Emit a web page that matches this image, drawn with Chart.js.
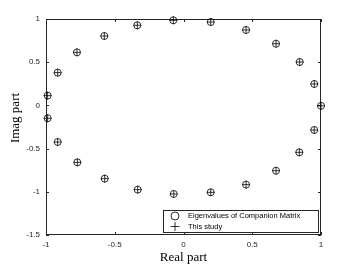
<!DOCTYPE html>
<html>
<head>
<meta charset="utf-8">
<script src="https://cdn.jsdelivr.net/npm/chart.js@4.4.1/dist/chart.umd.min.js"></script>
<style>
  html, body { margin: 0; padding: 0; background: #fff; }
  #wrap { width: 354px; height: 265px; position: relative; }
</style>
</head>
<body>
<div id="wrap"><canvas id="chart"></canvas></div>
<script>
/* data */
const seriesNames = ["Eigenvalues of Companion Matrix", "This study"];

const realPart = [
  -0.074, -0.336, -0.576, -0.775, -0.915, -0.988,
  -0.988, -0.915, -0.772, -0.573, -0.333, -0.071,
  0.198, 0.455, 0.673, 0.845, 0.951, 1.0,
  0.951, 0.842, 0.673, 0.455, 0.198
];
const imagPart = [
  0.985, 0.927, 0.803, 0.614, 0.379, 0.113,
  -0.149, -0.424, -0.659, -0.848, -0.975, -1.025,
  0.965, 0.873, 0.714, 0.502, 0.248, -0.005,
  -0.285, -0.543, -0.756, -0.917, -1.006
];

const xTicks = [-1, -0.5, 0, 0.5, 1];
const yTicks = [-1.5, -1, -0.5, 0, 0.5, 1];

const xTitle = "Real part";
const yTitle = "Imag part";

const axisColor = "#262626";
const tickFont = { family: "Liberation Sans", size: 8 };
const labelFont = { family: "Liberation Serif", size: 13 };

const points = realPart.map((x, i) => ({ x, y: imagPart[i] }));

/* MATLAB style box with inward ticks */
const boxPlugin = {
  id: "box",
  beforeDatasetsDraw(chart) {
    const { ctx, chartArea: a, scales } = chart;
    ctx.save();
    ctx.strokeStyle = axisColor;
    ctx.lineWidth = 1;
    ctx.strokeRect(a.left + 0.5, a.top + 0.5, a.right - a.left - 1, a.bottom - a.top - 1);
    ctx.beginPath();
    const len = 3;
    xTicks.forEach(v => {
      const px = Math.round(scales.x.getPixelForValue(v)) + 0.5;
      ctx.moveTo(px, a.bottom); ctx.lineTo(px, a.bottom - len);
      ctx.moveTo(px, a.top); ctx.lineTo(px, a.top + len);
    });
    yTicks.forEach(v => {
      const py = Math.round(scales.y.getPixelForValue(v)) + 0.5;
      ctx.moveTo(a.left, py); ctx.lineTo(a.left + len, py);
      ctx.moveTo(a.right, py); ctx.lineTo(a.right - len, py);
    });
    ctx.stroke();

    // y label sits a little above the axis middle in the picture
    ctx.fillStyle = "#000";
    ctx.font = labelFont.size + "px '" + labelFont.family + "'";
    ctx.textAlign = "center";
    ctx.textBaseline = "middle";
    ctx.translate(16, (a.top + a.bottom) / 2 - 9);
    ctx.rotate(-Math.PI / 2);
    ctx.fillText(yTitle, 0, 0);
    ctx.restore();
  }
};

/* legend inside the axes, bottom right */
const legendPlugin = {
  id: "innerLegend",
  afterDraw(chart) {
    const { ctx, chartArea: a } = chart;
    const w = 155, h = 22;
    const x0 = a.right - 3 - w, y0 = a.bottom - 3 - h;
    ctx.save();
    ctx.fillStyle = "#fff";
    ctx.fillRect(x0, y0, w, h);
    ctx.strokeStyle = axisColor;
    ctx.lineWidth = 1;
    ctx.strokeRect(x0 + 0.5, y0 + 0.5, w, h);
    ctx.font = "7.5px 'Liberation Sans'";
    ctx.textBaseline = "middle";
    chart.data.datasets.forEach((ds, i) => {
      const cy = y0 + 6 + i * 10.5;
      ctx.strokeStyle = "#000";
      ctx.fillStyle = "rgba(0,0,0,0)";
      ctx.lineWidth = 0.8;
      Chart.helpers.drawPoint(ctx, {
        pointStyle: ds.pointStyle,
        radius: ds.pointRadius + 0.5,
        borderWidth: 0.8
      }, x0 + 12, cy);
      ctx.fillStyle = "#000";
      ctx.fillText(ds.label, x0 + 25, cy);
    });
    ctx.restore();
  }
};

new Chart(document.getElementById("chart"), {
  type: "scatter",
  data: {
    datasets: [
      {
        label: seriesNames[0],
        data: points,
        clip: false,
        pointStyle: "circle",
        pointRadius: 3.5,
        pointBorderWidth: 0.8,
        pointBorderColor: "#000",
        pointBackgroundColor: "rgba(0,0,0,0)"
      },
      {
        label: seriesNames[1],
        data: points,
        clip: false,
        pointStyle: "cross",
        pointRadius: 4,
        pointBorderWidth: 0.8,
        pointBorderColor: "#000",
        pointBackgroundColor: "#000"
      }
    ]
  },
  options: {
    responsive: true,
    maintainAspectRatio: false,
    animation: false,
    layout: { padding: { top: 19, right: 33, left: 0, bottom: 0 } },
    plugins: {
      legend: { display: false },
      tooltip: { enabled: false }
    },
    scales: {
      x: {
        type: "linear",
        min: -1,
        max: 1,
        afterBuildTicks: s => { s.ticks = xTicks.map(v => ({ value: v })); },
        afterFit: s => { s.height = 30; },
        grid: { display: false, drawTicks: false },
        border: { display: false },
        ticks: {
          font: tickFont,
          color: axisColor,
          padding: 5,
          maxRotation: 0,
          callback: v => String(v)
        },
        title: {
          display: true,
          text: xTitle,
          font: labelFont,
          color: "#000",
          padding: { top: 0, bottom: 0 }
        }
      },
      y: {
        type: "linear",
        min: -1.5,
        max: 1,
        afterBuildTicks: s => { s.ticks = yTicks.map(v => ({ value: v })); },
        afterFit: s => { s.width = 46; },
        grid: { display: false, drawTicks: false },
        border: { display: false },
        ticks: {
          font: tickFont,
          color: axisColor,
          padding: 6,
          callback: v => String(v)
        }
      }
    }
  },
  plugins: [boxPlugin, legendPlugin]
});
</script>
</body>
</html>
